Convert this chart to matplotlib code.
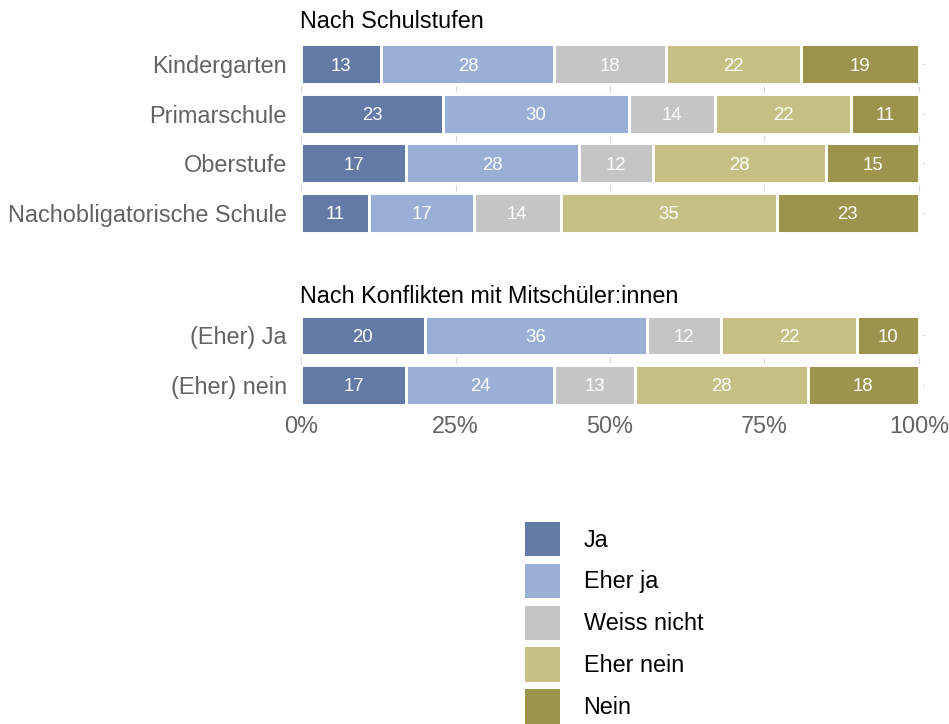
import matplotlib
matplotlib.use('Agg')
matplotlib.rcParams.update({'font.family': 'Liberation Sans', 'font.size': 16.8})

import matplotlib.pyplot as plt
from matplotlib.patches import Patch
import numpy as np

answers = ['Ja', 'Eher ja', 'Weiss nicht', 'Eher nein', 'Nein']
colors = ['#627AA5', '#9AAFD5', '#C5C5C5', '#C6C085', '#9C934C']

title_school = 'Nach Schulstufen'
school_levels = ['Kindergarten', 'Primarschule', 'Oberstufe', 'Nachobligatorische Schule']
school_values = [
    [13, 28, 18, 22, 19],
    [23, 30, 14, 22, 11],
    [17, 28, 12, 28, 15],
    [11, 17, 14, 35, 23],
]

title_conflict = 'Nach Konflikten mit Mitschüler:innen'
conflict_levels = ['(Eher) Ja', '(Eher) nein']
conflict_values = [
    [20, 36, 12, 22, 10],
    [17, 24, 13, 28, 18],
]

x_ticks = [0, 25, 50, 75, 100]
x_ticklabels = ['0%', '25%', '50%', '75%', '100%']

W, H = 949, 724
grid_col = '#D6D6D6'
label_col = '#636363'


def stack_panel(ax, levels, values, show_x=False):
    vals = np.array(values, dtype=float)
    n = len(levels)
    y = np.arange(n)
    height = 0.8

    # grid pieces peeking through gaps between rows and right of 100%
    for k in range(n - 1):
        ax.vlines(x_ticks, k + 0.5 - 0.068, k + 0.5 + 0.068, color=grid_col, lw=0.8, zorder=0)
    ax.hlines(y, 100.45, 101, color=grid_col, lw=0.8, zorder=0)

    left = np.zeros(n)
    for j, name in enumerate(answers):
        ax.barh(y, vals[:, j], height, left=left, color=colors[j],
                edgecolor='white', linewidth=2.1, zorder=2)
        for i in range(n):
            ax.text(left[i] + vals[i, j] / 2, y[i], '%d' % vals[i, j],
                    ha='center', va='center_baseline', color='white', fontsize=13.4, zorder=3)
        left += vals[:, j]

    ax.set_xlim(-1, 101)
    ax.set_ylim(n - 1 + 0.6, -0.6)
    ax.set_yticks(y)
    ax.set_yticklabels(levels)
    for s in ax.spines.values():
        s.set_visible(False)
    ax.tick_params(axis='y', length=0, pad=5.8, labelcolor=label_col, labelsize=16.9)
    ax.set_xticks(x_ticks)
    if show_x:
        ax.set_xticklabels(x_ticklabels)
        ax.tick_params(axis='x', length=0, pad=0.5, labelcolor=label_col, labelsize=16.8)
    else:
        ax.tick_params(axis='x', length=0, labelbottom=False)


def main():
    fig = plt.figure(figsize=(W / 100, H / 100), dpi=100)

    ax_top = fig.add_axes([295 / W, 1 - 242.4 / H, 630 / W, 207.8 / H])
    ax_bot = fig.add_axes([295 / W, 1 - 414.7 / H, 630 / W, 109.1 / H])

    stack_panel(ax_top, school_levels, school_values)
    stack_panel(ax_bot, conflict_levels, conflict_values, show_x=True)

    fig.text(300 / W, 1 - 28.3 / H, title_school, ha='left', va='baseline', fontsize=16.8)
    fig.text(300 / W, 1 - 303.3 / H, title_conflict, ha='left', va='baseline', fontsize=16.8)

    handles = [Patch(facecolor=c, edgecolor='none') for c in colors]
    fig.legend(handles, answers, loc='upper left',
               bbox_to_anchor=(525 / W, 1 - 521.7 / H),
               frameon=False, borderpad=0, borderaxespad=0,
               handlelength=1.51, handleheight=1.91, handletextpad=1.0,
               labelspacing=0.31, fontsize=16.8)

    plt.savefig('out.png', dpi=100)


if __name__ == '__main__':
    main()
